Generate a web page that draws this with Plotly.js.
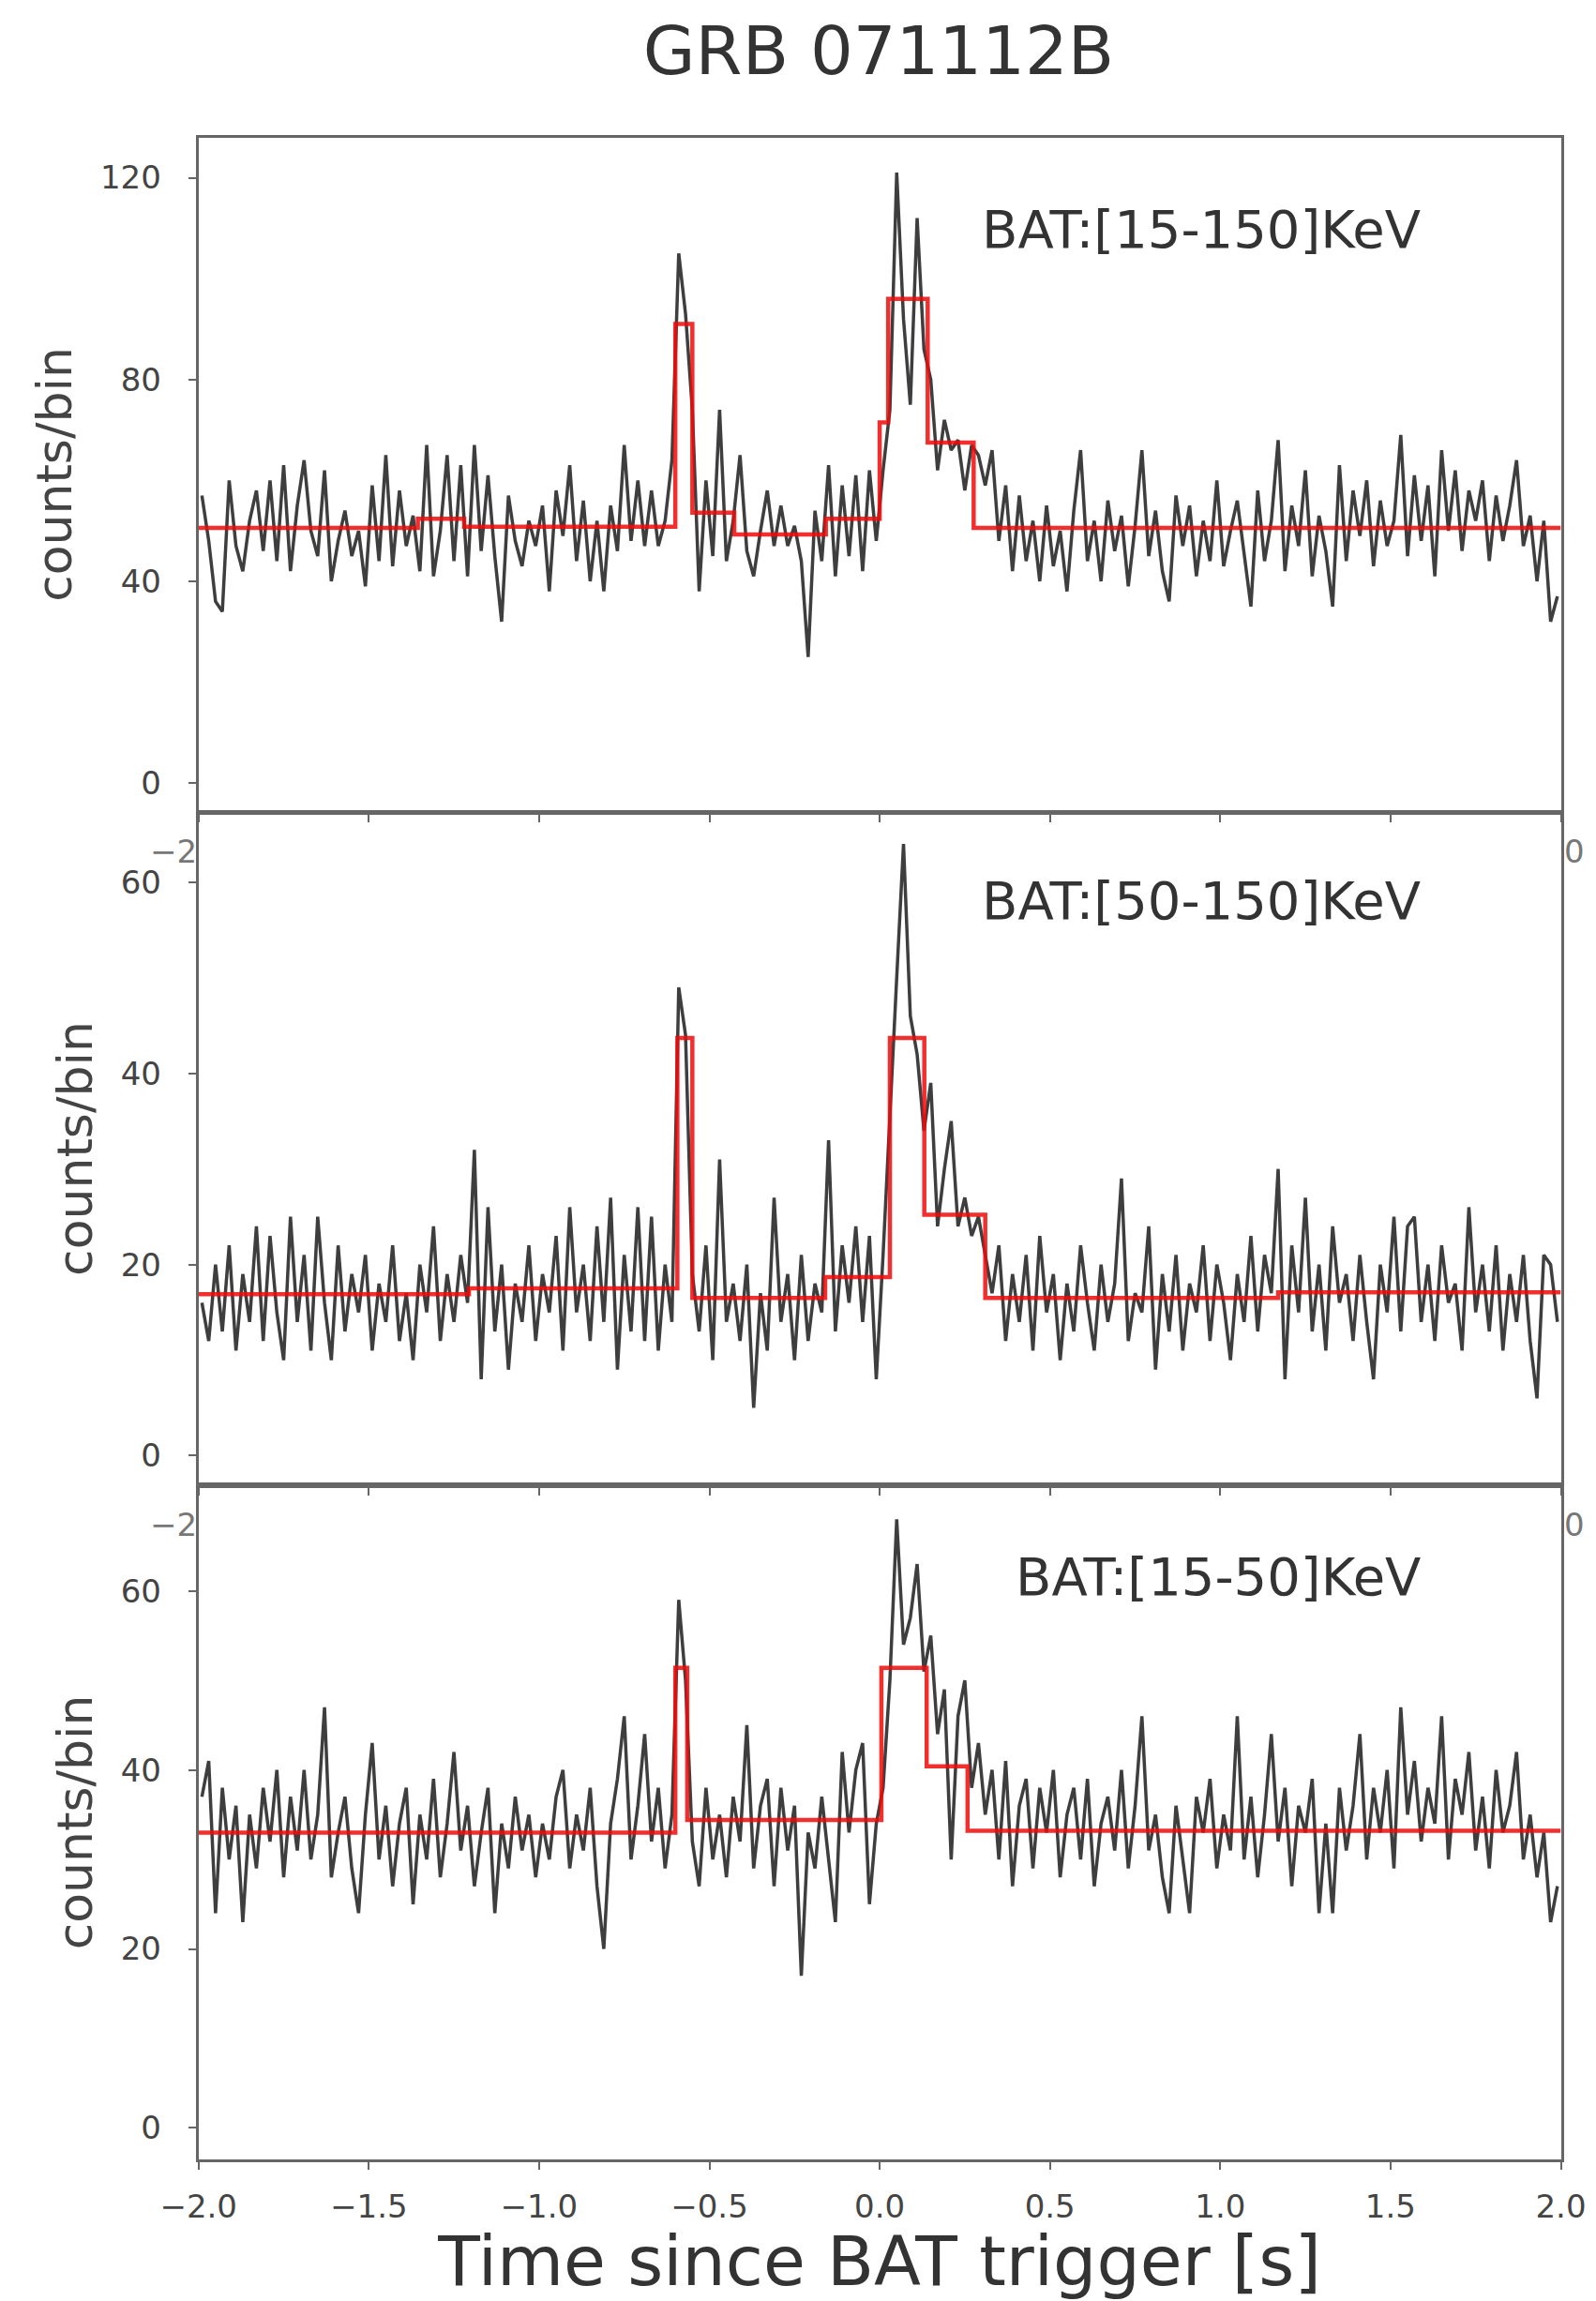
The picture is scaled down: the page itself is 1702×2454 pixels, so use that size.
<!DOCTYPE html>
<html>
<head>
<meta charset="utf-8">
<script src="https://cdn.plot.ly/plotly-3.0.1.min.js"></script>
<style>html,body{margin:0;padding:0;background:#fff;}#chart{width:1702px;height:2454px;}</style>
</head>
<body>
<div id="chart"></div>
<script>
// ---- data ----
const chartTitle = "GRB 071112B";
const xAxisTitle = "Time since BAT trigger [s]";
const yAxisTitle = "counts/bin";
const panelLabels = ["BAT:[15-150]KeV", "BAT:[50-150]KeV", "BAT:[15-50]KeV"];

const timeStart = -2.0;
const binWidth = 0.02;

const counts15_150 = [
  57,48,36,34,60,47,42,52,58,46,
  60,44,63,42,55,64,50,45,62,40,
  48,54,45,50,39,59,44,65,43,58,
  47,53,42,67,41,50,65,44,63,41,
  67,46,61,45,32,57,48,43,52,47,
  55,38,58,49,63,44,56,40,52,38,
  55,46,67,48,60,47,58,47,52,64,
  105,93,74,38,60,45,74,44,52,65,
  46,41,50,58,47,55,47,51,44,25,
  54,44,63,41,59,45,61,42,62,48,
  62,74,121,92,75,112,86,80,62,72,
  66,68,58,67,65,59,66,48,59,42,
  57,44,52,40,55,43,50,38,54,66,
  44,52,40,56,46,53,39,51,66,45,
  54,42,36,57,47,55,41,52,44,60,
  43,50,56,45,35,58,44,52,68,42,
  55,47,62,41,53,46,35,63,44,58,
  49,60,43,56,47,52,69,45,61,48,
  59,41,66,50,62,46,58,52,60,44,
  57,48,55,64,47,53,40,52,32,37
];
const counts50_150 = [
  16,12,20,13,22,11,19,14,24,12,
  23,15,10,25,14,21,11,25,16,10,
  22,13,19,15,21,11,18,14,22,12,
  17,10,20,15,24,12,19,14,21,16,
  32,8,26,13,20,9,18,14,22,12,
  19,15,23,11,26,15,20,12,24,14,
  27,9,21,13,26,12,25,11,20,14,
  49,44,19,13,22,10,31,14,18,12,
  20,5,17,11,27,14,19,10,21,12,
  18,15,33,13,22,16,24,14,23,8,
  21,36,50,64,46,42,34,39,24,30,
  35,24,27,23,25,21,17,22,12,19,
  14,21,11,23,15,19,10,18,13,22,
  16,11,20,14,18,29,12,17,15,24,
  9,19,13,21,11,18,15,22,12,20,
  16,10,19,14,23,13,21,17,30,8,
  22,15,27,13,20,11,24,16,19,12,
  21,14,8,20,15,25,13,24,25,14,
  20,12,22,16,18,11,26,15,20,13,
  22,11,19,14,21,12,6,21,20,14
];
const counts15_50 = [
  37,41,24,38,30,36,23,35,29,38,
  32,40,28,37,31,40,30,35,47,28,
  33,37,29,24,35,43,30,36,27,34,
  38,25,35,30,39,28,34,42,31,36,
  27,33,38,24,34,29,37,31,35,28,
  34,30,37,40,29,35,31,38,27,20,
  34,39,46,30,36,44,32,38,29,35,
  59,50,32,27,38,30,35,28,37,32,
  45,29,36,39,27,38,31,36,17,33,
  29,37,30,23,42,33,40,43,25,34,
  38,50,68,54,57,63,51,55,44,49,
  30,46,50,38,43,35,40,30,41,27,
  36,39,29,38,33,40,28,35,38,30,
  39,27,34,37,31,40,29,36,46,31,
  35,28,24,36,30,24,37,33,39,29,
  35,31,46,30,37,28,35,44,32,38,
  27,36,33,39,24,34,24,38,31,36,
  44,30,38,33,40,29,47,35,41,32,
  38,34,46,30,39,35,42,31,37,29,
  40,33,36,42,30,35,28,33,23,27
];

// Bayesian-block step levels (edges in s, levels in counts/bin)
const blockEdges15_150 = [-2.0, -1.356, -1.22, -0.60, -0.55, -0.427, -0.158, 0.0, 0.025, 0.141, 0.276, 2.0];
const blockLevels15_150 = [50.6, 52.4, 50.8, 91.0, 53.6, 49.3, 52.4, 71.5, 96.0, 67.5, 50.6];
const blockEdges50_150 = [-2.0, -1.206, -0.594, -0.55, -0.16, 0.03, 0.131, 0.31, 1.17, 2.0];
const blockLevels50_150 = [16.9, 17.5, 43.7, 16.5, 18.7, 43.7, 25.2, 16.5, 17.1];
const blockEdges15_50 = [-2.0, -0.60, -0.565, 0.005, 0.138, 0.258, 2.0];
const blockLevels15_50 = [33.0, 51.4, 34.4, 51.4, 40.4, 33.2];

const xTickVals = [-2.0, -1.5, -1.0, -0.5, 0.0, 0.5, 1.0, 1.5, 2.0];
const xTickText = ["\u22122.0", "\u22121.5", "\u22121.0", "\u22120.5", "0.0", "0.5", "1.0", "1.5", "2.0"];
const yTicks15_150 = [0, 40, 80, 120];
const yTicks50_150 = [0, 20, 40, 60];
const yTicks15_50 = [0, 20, 40, 60];

// ---- build ----
const FONT = "DejaVu Sans";
const W = 1702, H = 2454;
function binTimes(n) { const t = []; for (let i = 0; i < n; i++) t.push(timeStart + binWidth * (i + 0.5)); return t; }

const panels = [
  {counts: counts15_150, edges: blockEdges15_150, levels: blockLevels15_150, ticks: yTicks15_150, range: [-5.65, 128.0], dom: [0.6473, 0.9403], label: panelLabels[0], labelY: 245},
  {counts: counts50_150, edges: blockEdges50_150, levels: blockLevels50_150, ticks: yTicks50_150, range: [-3.05, 67.3], dom: [0.3547, 0.6469], label: panelLabels[1], labelY: 960},
  {counts: counts15_50, edges: blockEdges15_50, levels: blockLevels15_50, ticks: yTicks15_50, range: [-3.5, 71.8], dom: [0.0616, 0.3545], label: panelLabels[2], labelY: 1681}
];

const traces = [];
const layout = {
  width: W, height: H,
  margin: {l: 0, r: 0, t: 0, b: 0},
  paper_bgcolor: "#ffffff", plot_bgcolor: "#ffffff",
  showlegend: false,
  font: {family: FONT, color: "#333"},
  title: {text: chartTitle, font: {family: FONT, size: 72, color: "#333"}, x: 937 / W, xanchor: "center", y: 1 - 54 / H, yanchor: "middle", xref: "paper", yref: "container"},
  annotations: []
};

panels.forEach((p, k) => {
  const sfx = k === 0 ? "" : String(k + 1);
  const xa = "x" + sfx, ya = "y" + sfx;
  traces.push({type: "scatter", mode: "lines", x: binTimes(p.counts.length), y: p.counts,
    xaxis: xa, yaxis: ya, line: {color: "rgba(28,28,28,0.85)", width: 3.5}, hoverinfo: "skip"});
  traces.push({type: "scatter", mode: "lines", x: p.edges, y: p.levels.concat([p.levels[p.levels.length - 1]]),
    xaxis: xa, yaxis: ya, line: {color: "rgba(240,10,10,0.85)", width: 4.5, shape: "hv"}, hoverinfo: "skip"});

  layout["xaxis" + sfx] = {
    domain: [211.7 / W, 1664.5 / W], anchor: ya, range: [-2, 2],
    tickmode: "array", tickvals: xTickVals, ticktext: xTickText,
    showticklabels: k === 2, ticks: "outside", ticklen: 8, tickwidth: 2, tickcolor: "#666",
    ticklabelstandoff: 10,
    showline: true, mirror: true, linecolor: "#666", linewidth: 3,
    showgrid: false, zeroline: false, automargin: false,
    tickfont: {family: FONT, size: 34, color: "#444"},
    title: k === 2 ? {text: xAxisTitle, font: {family: FONT, size: 73, color: "#333"}, standoff: 10} : {text: ""}
  };
  layout["yaxis" + sfx] = {
    domain: p.dom, anchor: xa, range: p.range,
    tickmode: "array", tickvals: p.ticks, ticktext: p.ticks.map(String),
    ticks: "outside", ticklen: 8, tickwidth: 2, tickcolor: "#666",
    ticklabelstandoff: 22,
    showline: true, mirror: true, linecolor: "#666", linewidth: 3,
    showgrid: false, zeroline: false, automargin: false,
    tickfont: {family: FONT, size: 34, color: "#444"},
    title: {text: yAxisTitle, font: {family: FONT, size: 52, color: "#444"}, standoff: 14}
  };
  layout.annotations.push({text: p.label, xref: "paper", yref: "paper", x: 1517 / W, xanchor: "right",
    y: 1 - p.labelY / H, yanchor: "middle", showarrow: false, font: {family: FONT, size: 56, color: "#333"}});
});

// partly hidden x tick labels of the upper panels peeking out at the panel joins
[908, 1626].forEach(yy => {
  layout.annotations.push({text: "\u22122", xref: "paper", yref: "paper", x: 212 / W, xanchor: "right", y: 1 - yy / H, yanchor: "middle", showarrow: false, font: {family: FONT, size: 34, color: "#777"}});
  layout.annotations.push({text: "0", xref: "paper", yref: "paper", x: 1666 / W, xanchor: "left", y: 1 - yy / H, yanchor: "middle", showarrow: false, font: {family: FONT, size: 34, color: "#777"}});
});

Plotly.newPlot("chart", traces, layout, {staticPlot: true, displayModeBar: false});
</script>
</body>
</html>
